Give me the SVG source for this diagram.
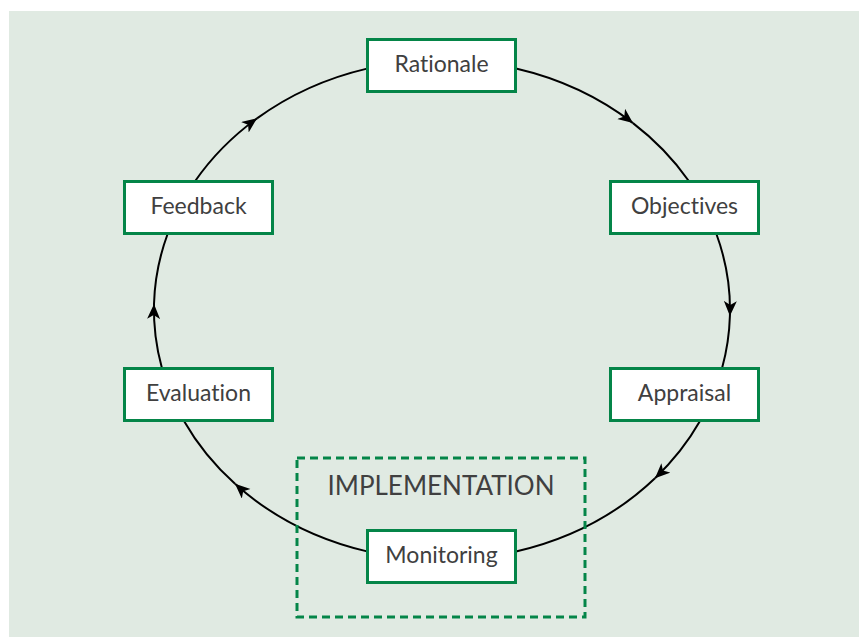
<svg xmlns="http://www.w3.org/2000/svg" width="859" height="637" viewBox="0 0 859 637">
<defs>
<marker id="ah" markerUnits="userSpaceOnUse" markerWidth="18" markerHeight="14" refX="15" refY="6.5" orient="auto">
<path d="M0,0 L15,6.5 L0,13 L4,6.5 Z" fill="#000"/>
</marker>
<style>
.bg{fill:#e0eae2}
.box{fill:#fff;stroke:#048548;stroke-width:3}
.lbl{font-family:"Lato","Open Sans",sans-serif;font-size:23px;fill:#404040;text-anchor:middle;font-variant-ligatures:none}
.conn{fill:none;stroke:#000;stroke-width:2}
.dash{fill:none;stroke:#048548;stroke-width:3;stroke-dasharray:8 5}
</style>
</defs>
<rect class="bg" x="9" y="11" width="850" height="626"/>
<g id="connectors">
<path class="conn" d="M516,68.5 A288,250 0 0 1 633,123.1" marker-end="url(#ah)"/>
<path class="conn" d="M633,123.1 A288,250 0 0 1 688.8,181"/>
<path class="conn" d="M716.4,234 A288,250 0 0 1 729.9,316" marker-end="url(#ah)"/>
<path class="conn" d="M729.9,316 A288,250 0 0 1 722.1,368"/>
<path class="conn" d="M700,421 A288,250 0 0 1 655,478.2" marker-end="url(#ah)"/>
<path class="conn" d="M655,478.2 A288,250 0 0 1 516,551.5"/>
<path class="conn" d="M367,551.4 A288,250 0 0 1 235,483.8" marker-end="url(#ah)"/>
<path class="conn" d="M235,483.8 A288,250 0 0 1 184,421"/>
<path class="conn" d="M161.9,368 A288,250 0 0 1 154,304" marker-end="url(#ah)"/>
<path class="conn" d="M154,304 A288,250 0 0 1 167.6,234"/>
<path class="conn" d="M195.2,181 A288,250 0 0 1 257,118.4" marker-end="url(#ah)"/>
<path class="conn" d="M257,118.4 A288,250 0 0 1 367,68.6"/>
</g>
<g id="implementation">
<rect class="dash" x="297" y="458" width="288" height="159"/>
<text class="lbl" x="441" y="495" style="font-size:26px">IMPLEMENTATION</text>
</g>
<g id="rationale">
<rect class="box" x="367.5" y="39.5" width="148" height="52"/>
<text class="lbl" x="441.5" y="72">Rationale</text>
</g>
<g id="objectives">
<rect class="box" x="610.5" y="181.5" width="148" height="52"/>
<text class="lbl" x="684.5" y="214">Objectives</text>
</g>
<g id="appraisal">
<rect class="box" x="610.5" y="368.5" width="148" height="52"/>
<text class="lbl" x="684.5" y="401">Appraisal</text>
</g>
<g id="monitoring">
<rect class="box" x="367.5" y="530.5" width="148" height="52"/>
<text class="lbl" x="441.5" y="563">Monitoring</text>
</g>
<g id="evaluation">
<rect class="box" x="124.5" y="368.5" width="148" height="52"/>
<text class="lbl" x="198.5" y="401">Evaluation</text>
</g>
<g id="feedback">
<rect class="box" x="124.5" y="181.5" width="148" height="52"/>
<text class="lbl" x="198.5" y="214">Feedback</text>
</g>
</svg>
